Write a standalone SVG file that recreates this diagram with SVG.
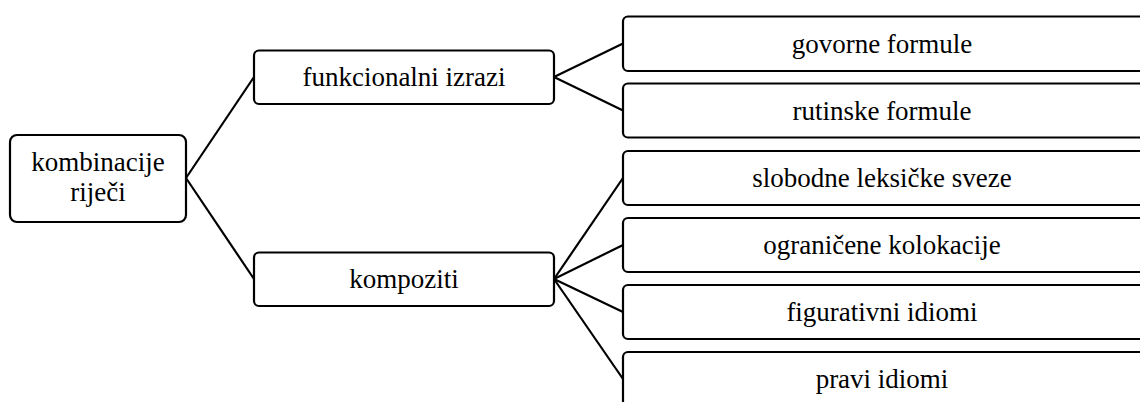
<svg xmlns="http://www.w3.org/2000/svg" width="1140" height="402" viewBox="0 0 1140 402">
<style>
.box{fill:#fff;stroke:#000;stroke-width:2.2}
.lbl{font-size:27px;fill:#000;text-anchor:middle}
.conn line{stroke:#000;stroke-width:2.2}
</style>
<rect width="1140" height="402" fill="#fff"/>
<g class="conn">
<line x1="186" y1="178" x2="254" y2="77"/>
<line x1="186" y1="178" x2="254" y2="279"/>
<line x1="554" y1="77" x2="623" y2="43.5"/>
<line x1="554" y1="77" x2="623" y2="110.5"/>
<line x1="554" y1="279" x2="623" y2="178"/>
<line x1="554" y1="279" x2="623" y2="245"/>
<line x1="554" y1="279" x2="623" y2="312"/>
<line x1="554" y1="279" x2="623" y2="379"/>
</g>
<g font-family="Liberation Serif, Times New Roman, DejaVu Serif, serif">
<g id="n-root"><rect class="box" x="10" y="135" width="176" height="87" rx="7"/><text class="lbl" x="98" y="171">kombinacije</text><text class="lbl" x="98" y="201">riječi</text></g>
<g id="n-funk"><rect class="box" x="254" y="50.5" width="300" height="53.5" rx="5"/><text class="lbl" x="404" y="86">funkcionalni izrazi</text></g>
<g id="n-komp"><rect class="box" x="254" y="252.5" width="300" height="53.5" rx="5"/><text class="lbl" x="404" y="288">kompoziti</text></g>
<g id="n-govorne"><rect class="box" x="623" y="16.5" width="530" height="54.5" rx="5"/><text class="lbl" x="882" y="52.5">govorne formule</text></g>
<g id="n-rutinske"><rect class="box" x="623" y="83.5" width="530" height="54" rx="5"/><text class="lbl" x="882" y="119.5">rutinske formule</text></g>
<g id="n-slobodne"><rect class="box" x="623" y="151" width="530" height="54" rx="5"/><text class="lbl" x="882" y="187">slobodne leksičke sveze</text></g>
<g id="n-ogranicene"><rect class="box" x="623" y="218" width="530" height="54" rx="5"/><text class="lbl" x="882" y="254">ograničene kolokacije</text></g>
<g id="n-figurativni"><rect class="box" x="623" y="285" width="530" height="54" rx="5"/><text class="lbl" x="882" y="321">figurativni idiomi</text></g>
<g id="n-pravi"><rect class="box" x="623" y="352" width="530" height="60" rx="5"/><text class="lbl" x="882" y="388">pravi idiomi</text></g>
</g>
</svg>
